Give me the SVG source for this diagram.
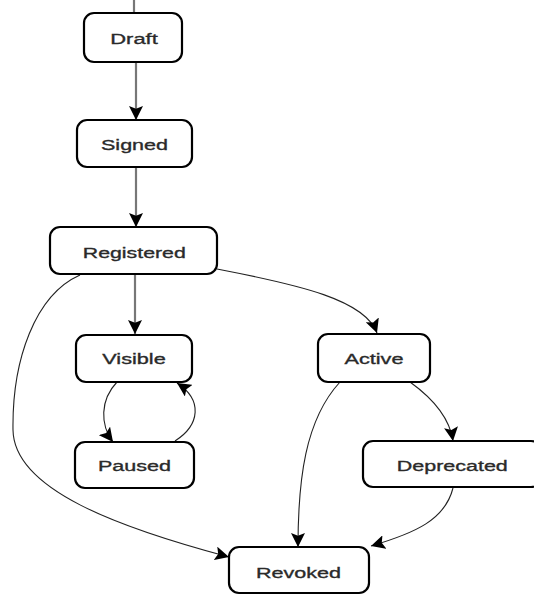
<svg xmlns="http://www.w3.org/2000/svg" width="534" height="596" viewBox="0 0 534 596">
  <style>
    .node rect { fill: #ffffff; stroke: #000000; stroke-width: 2.2; }
    .node text { font-family: "Liberation Sans", Arial, sans-serif; font-size: 15.5px; fill: #2a2a2a; stroke: #2a2a2a; stroke-width: 0.35; text-anchor: middle; dominant-baseline: central; }
    .main { fill: none; stroke: #777777; stroke-width: 2.2; }
    .side { fill: none; stroke: #222222; stroke-width: 1.1; }
  </style>
  <defs>
    <marker id="head" markerUnits="userSpaceOnUse" markerWidth="14" markerHeight="14" refX="10" refY="5" orient="auto" viewBox="0 0 10 10">
      <path d="M0,0 L10,5 L0,10 L2,5 Z" fill="#000000"/>
    </marker>
  </defs>

  <g id="connectors">
    <line class="main" x1="134" y1="0" x2="134" y2="13"/>
    <line class="main" x1="136" y1="62" x2="136" y2="120" marker-end="url(#head)"/>
    <line class="main" x1="136" y1="167" x2="136" y2="227" marker-end="url(#head)"/>
    <line class="main" x1="135" y1="274" x2="135" y2="334" marker-end="url(#head)"/>
    <path class="side" d="M80,275 C35,295 12,360 13,430 C14,490 120,528 229,557" marker-end="url(#head)"/>
    <path class="side" d="M217,269 C300,285 365,300 377,333" marker-end="url(#head)"/>
    <path class="side" d="M117,382 C100,400 100,425 113,442" marker-end="url(#head)"/>
    <path class="side" d="M175,441 C200,425 203,400 177,383" marker-end="url(#head)"/>
    <path class="side" d="M410,382 C435,400 450,420 453,441" marker-end="url(#head)"/>
    <path class="side" d="M340,382 C305,420 298,480 298,547" marker-end="url(#head)"/>
    <path class="side" d="M453,488 C445,520 415,533 371,546" marker-end="url(#head)"/>
  </g>

  <g id="draft" class="node">
    <rect x="84" y="13" width="98" height="49" rx="10"/>
    <text x="134" y="38" textLength="47.5" lengthAdjust="spacingAndGlyphs">Draft</text>
  </g>
  <g id="signed" class="node">
    <rect x="77" y="120" width="115" height="47" rx="10"/>
    <text x="134.5" y="144" textLength="67" lengthAdjust="spacingAndGlyphs">Signed</text>
  </g>
  <g id="registered" class="node">
    <rect x="50" y="227" width="167" height="47" rx="10"/>
    <text x="134.3" y="252" textLength="103" lengthAdjust="spacingAndGlyphs">Registered</text>
  </g>
  <g id="visible" class="node">
    <rect x="76" y="335" width="116" height="47" rx="10"/>
    <text x="134" y="358.5" textLength="63.5" lengthAdjust="spacingAndGlyphs">Visible</text>
  </g>
  <g id="paused" class="node">
    <rect x="75" y="442" width="119" height="46" rx="10"/>
    <text x="134.5" y="465.5" textLength="73" lengthAdjust="spacingAndGlyphs">Paused</text>
  </g>
  <g id="active" class="node">
    <rect x="318" y="334" width="112" height="48" rx="10"/>
    <text x="374" y="358.5" textLength="59" lengthAdjust="spacingAndGlyphs">Active</text>
  </g>
  <g id="deprecated" class="node">
    <rect x="363" y="441" width="178" height="46" rx="10"/>
    <text x="452.3" y="465" textLength="111" lengthAdjust="spacingAndGlyphs">Deprecated</text>
  </g>
  <g id="revoked" class="node">
    <rect x="229" y="547" width="140" height="46" rx="10"/>
    <text x="298.4" y="572" textLength="85" lengthAdjust="spacingAndGlyphs">Revoked</text>
  </g>
</svg>
